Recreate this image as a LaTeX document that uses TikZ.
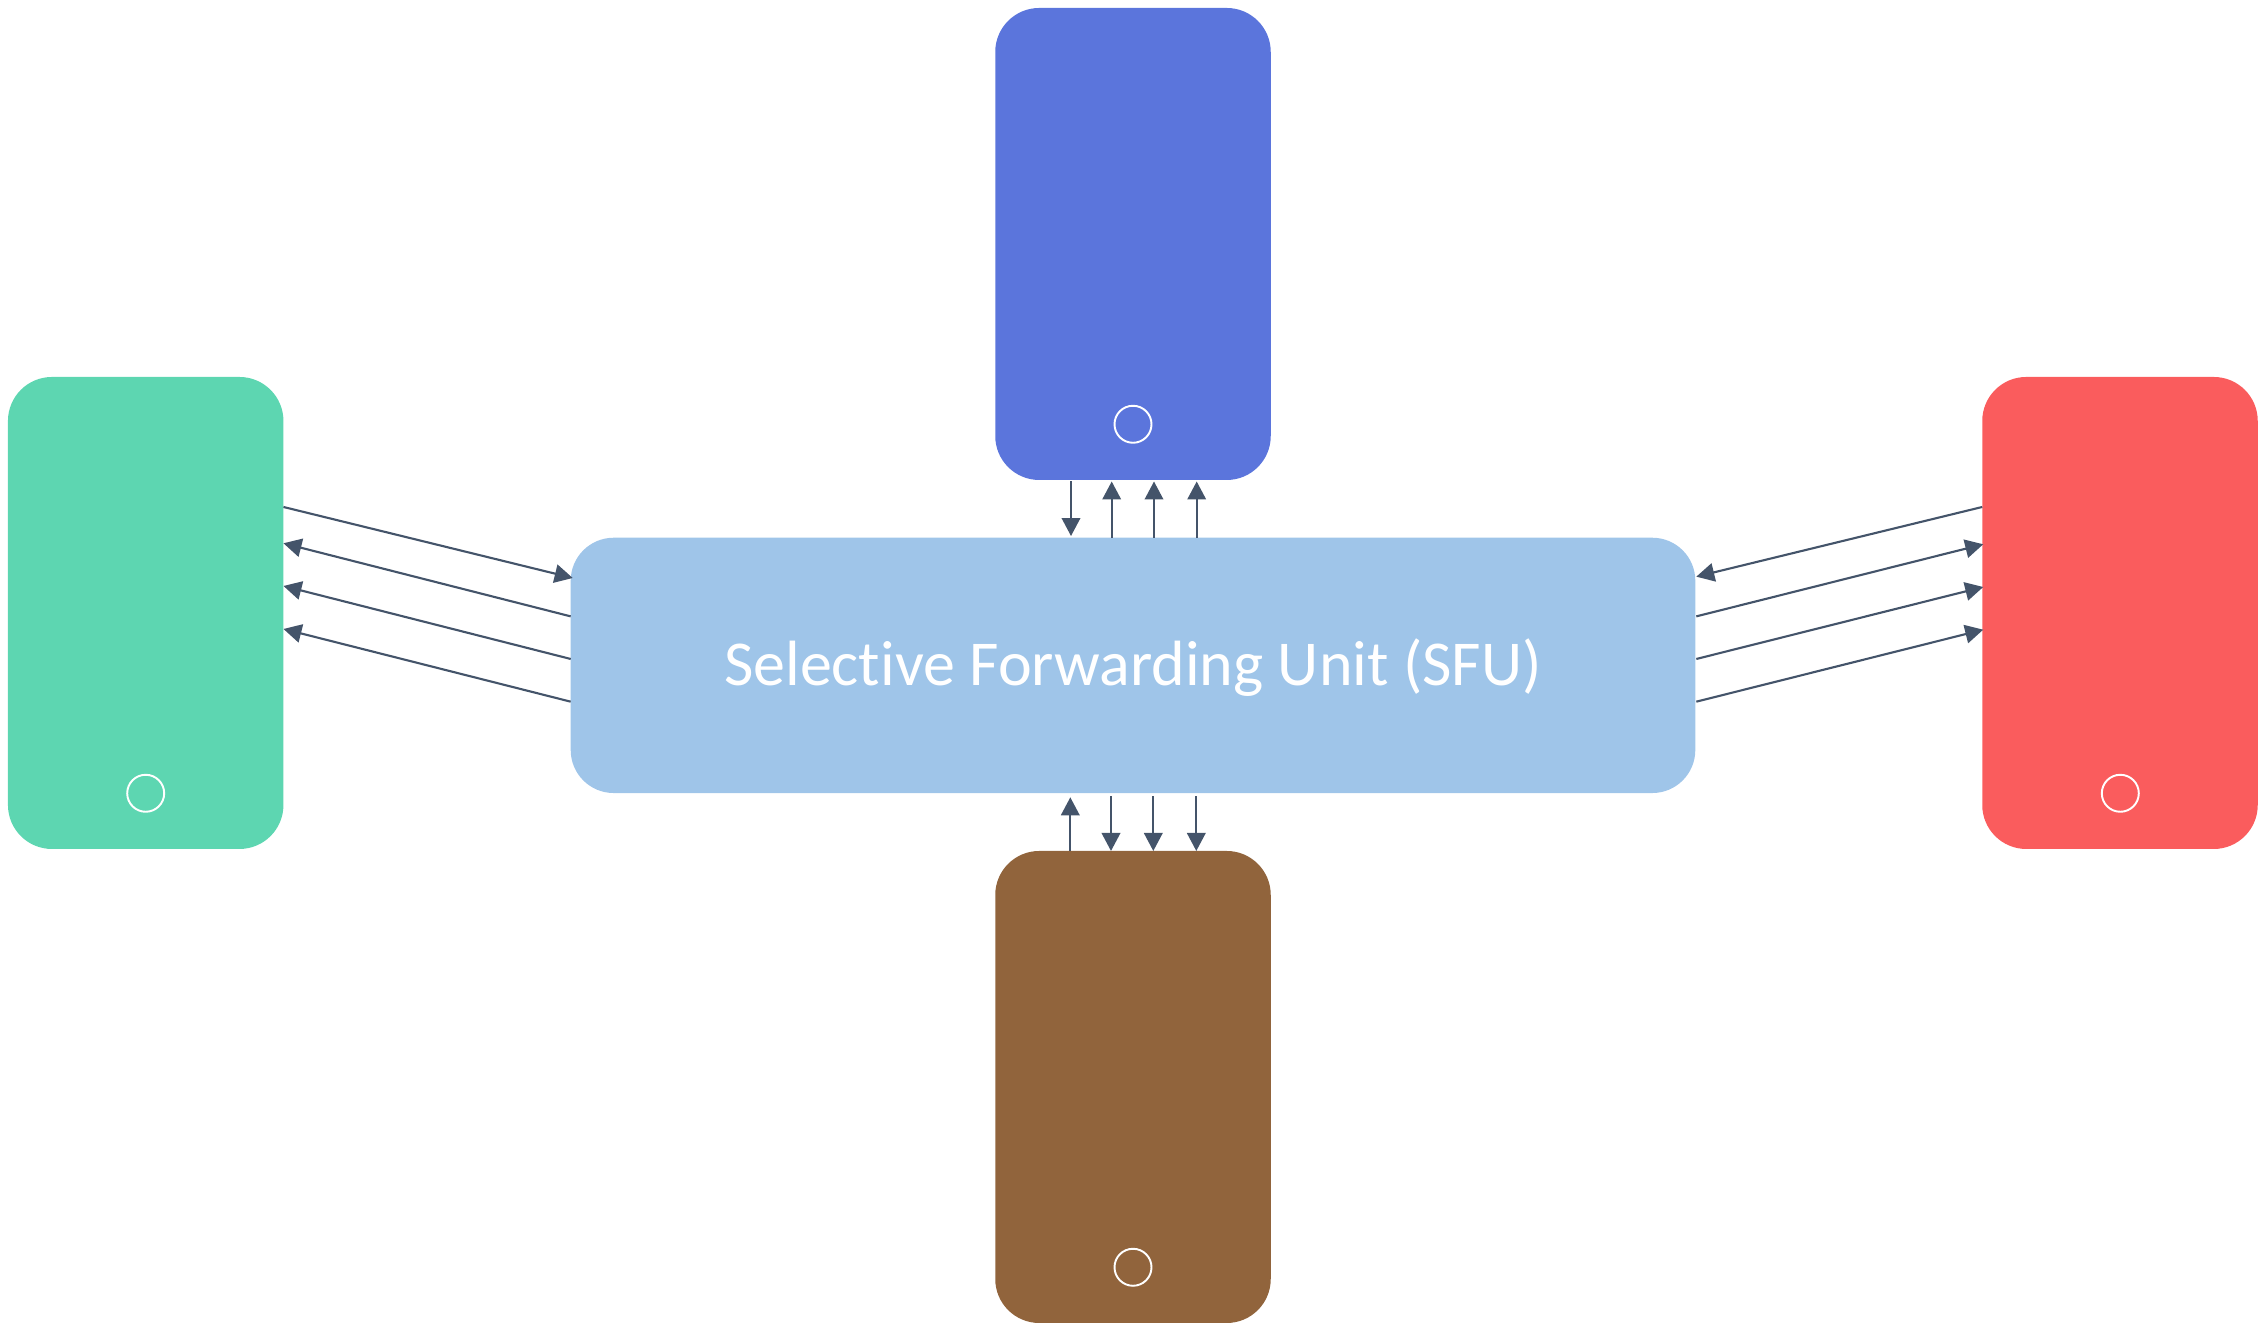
\documentclass[tikz,border=0pt]{standalone}
\usepackage{fontspec}
\usepackage{xcolor}
\usetikzlibrary{arrows.meta}
\setmainfont[Ligatures=NoCommon]{Carlito}
\definecolor{phoneblue}{HTML}{5B75DC}
\definecolor{phonegreen}{HTML}{5DD6B1}
\definecolor{phonered}{HTML}{FA5C5D}
\definecolor{phonebrown}{HTML}{91643C}
\definecolor{sfublue}{HTML}{9FC5E9}
\definecolor{flowgray}{HTML}{44546A}
\tikzset{
  phone/.style={rectangle,minimum width=2.755cm,minimum height=4.72cm,inner sep=0pt,outer sep=0pt},
  homekey/.style={circle,draw=white,line width=0.55pt,minimum size=0.37cm,inner sep=0pt},
  flow/.style={draw=flowgray,line width=0.6pt},
  >={Triangle[length=1.8mm,width=1.85mm]}
}
% body of a phone, with true circular corners
\newcommand{\phonebody}[2]{\fill[#2] ([xshift=.44cm]#1.north west) -- ([xshift=-.44cm]#1.north east) arc (90:0:.44) -- ([yshift=.44cm]#1.south east) arc (0:-90:.44) -- ([xshift=.44cm]#1.south west) arc (-90:-180:.44) -- ([yshift=-.44cm]#1.north west) arc (180:90:.44) -- cycle;}

\begin{document}
\begin{tikzpicture}
\useasboundingbox (0,0) rectangle (22.62,13.23);

\node[phone] (phonetop) at (11.33,10.79) {};
\node[phone] (phoneleft) at (1.457,7.10) {};
\node[phone] (phoneright) at (21.20,7.10) {};
\node[phone] (phonebottom) at (11.33,2.36) {};
\phonebody{phonetop}{phoneblue}
\phonebody{phoneleft}{phonegreen}
\phonebody{phoneright}{phonered}
\phonebody{phonebottom}{phonebrown}
\node[rectangle,rounded corners=0.43cm,minimum width=11.246cm,minimum height=2.553cm,inner sep=0pt,outer sep=0pt,fill=sfublue,text=white,text height=0.512cm,text depth=0.1cm,font=\fontsize{18.2}{22}\selectfont] (sfu) at (11.33,6.576) {Selective Forwarding Unit (SFU)};

\node[homekey] (keytop) at (11.33,8.987) {};
\node[homekey] (keyleft) at (1.457,5.297) {};
\node[homekey] (keyright) at (21.203,5.297) {};
\node[homekey] (keybottom) at (11.33,0.557) {};

% top phone
\draw[flow,->] ([xshift=-0.62cm,yshift=-0.013cm]phonetop.south) -- ([xshift=-0.62cm,yshift=0.017cm]sfu.north);
\draw[flow,->] ([xshift=-0.213cm]sfu.north) -- ([xshift=-0.213cm,yshift=-0.015cm]phonetop.south);
\draw[flow,->] ([xshift=0.21cm]sfu.north) -- ([xshift=0.21cm,yshift=-0.015cm]phonetop.south);
\draw[flow,->] ([xshift=0.637cm]sfu.north) -- ([xshift=0.637cm,yshift=-0.015cm]phonetop.south);

% bottom phone
\draw[flow,->] ([xshift=-0.627cm]phonebottom.north) -- ([xshift=-0.627cm,yshift=-0.043cm]sfu.south);
\draw[flow,->] ([xshift=-0.22cm,yshift=-0.03cm]sfu.south) -- ([xshift=-0.22cm]phonebottom.north);
\draw[flow,->] ([xshift=0.203cm,yshift=-0.03cm]sfu.south) -- ([xshift=0.203cm]phonebottom.north);
\draw[flow,->] ([xshift=0.633cm,yshift=-0.03cm]sfu.south) -- ([xshift=0.633cm]phonebottom.north);

% left phone
\draw[flow,->] ([yshift=1.06cm]phoneleft.east) -- ([xshift=0.02cm,yshift=0.874cm]sfu.west);
\draw[flow,->] ([yshift=0.49cm]sfu.west) -- ([yshift=0.697cm]phoneleft.east);
\draw[flow,->] ([yshift=0.064cm]sfu.west) -- ([yshift=0.27cm]phoneleft.east);
\draw[flow,->] ([yshift=-0.363cm]sfu.west) -- ([yshift=-0.16cm]phoneleft.east);

% right phone
\draw[flow,->] ([yshift=1.06cm]phoneright.west) -- ([xshift=0.01cm,yshift=0.887cm]sfu.east);
\draw[flow,->] ([xshift=0.01cm,yshift=0.49cm]sfu.east) -- ([xshift=0.01cm,yshift=0.687cm]phoneright.west);
\draw[flow,->] ([xshift=0.01cm,yshift=0.064cm]sfu.east) -- ([xshift=0.01cm,yshift=0.26cm]phoneright.west);
\draw[flow,->] ([xshift=0.01cm,yshift=-0.363cm]sfu.east) -- ([xshift=0.01cm,yshift=-0.167cm]phoneright.west);
\end{tikzpicture}
\end{document}
